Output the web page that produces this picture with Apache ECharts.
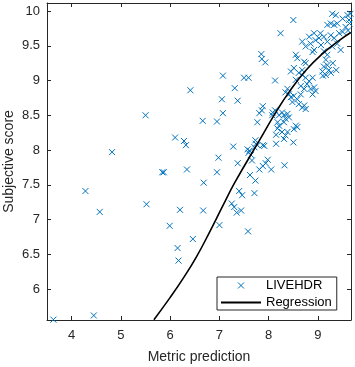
<!DOCTYPE html>
<html><head><meta charset="utf-8">
<script src="https://cdn.jsdelivr.net/npm/echarts@6/dist/echarts.min.js"></script>
<style>html,body{margin:0;padding:0;background:#fff}#c{width:355px;height:367px}</style>
</head><body><div id="c"></div>
<script>
const xTicks = [4, 5, 6, 7, 8, 9];
const yTicks = [6, 6.5, 7, 7.5, 8, 8.5, 9, 9.5, 10];

const scatterX = [
  3.63,4.45,4.28,4.57,4.82,5.50,5.52,5.84,5.87,5.99,6.10,6.15,6.17,6.20,6.28,6.32,6.34,6.41,6.46,6.66,6.67,6.68,6.95,6.95,6.98,7.00,7.05,7.07,7.07,
  7.31,7.37,7.50,7.59,7.28,7.37,7.57,7.61,7.59,7.64,7.66,7.62,7.73,7.40,7.46,7.71,7.25,7.30,7.35,7.44,7.58,
  7.73,7.74,7.71,7.77,7.88,7.91,7.77,7.81,7.86,7.88,7.85,7.86,7.93,7.81,7.88,7.94,7.98,8.05,8.32,
  8.08,8.13,8.07,8.21,8.18,8.21,8.18,8.15,8.15,8.13,8.24,8.50,
  8.55,8.75,8.82,8.89,8.78,8.65,8.72,8.85,8.92,8.95,8.89,9.10,
  8.38,8.34,8.41,8.45,8.51,8.58,8.65,
  8.48,8.61,8.68,8.75,8.72,
  8.27,8.31,8.38,8.41,8.34,8.31,
  8.55,8.58,8.51,
  8.27,8.34,8.31,8.38,8.50,
  9.29,9.36,9.26,9.33,9.19,9.39,9.50,9.60,9.63,9.66,9.56,9.50,9.43,
  9.05,9.12,9.26,9.33,
  8.92,9.02,8.95,8.82,8.85,9.06,9.19,9.29,9.39,9.46,
  8.68,8.75,8.92,8.89,
  9.12,9.19,9.16,9.19,9.12,9.22,9.26,9.09,9.16,
  8.55,8.58,8.72,8.75,8.68,8.51,8.45,8.61,8.68,
  9.37,9.30,9.61,9.64
];
const scatterY = [
  5.56,5.62,7.41,7.11,7.97,8.50,7.22,7.68,7.68,6.91,8.18,6.59,6.41,7.14,8.13,8.07,7.72,8.86,6.72,8.42,7.13,7.53,8.41,7.68,7.89,6.92,8.73,9.07,8.53,
  8.89,8.71,9.04,9.04,8.05,7.81,8.01,7.99,7.96,7.93,7.85,7.64,7.56,7.41,7.35,7.38,7.23,7.18,7.10,7.13,6.83,
  8.14,8.09,8.04,8.07,8.07,8.06,8.40,8.53,8.57,8.63,9.38,9.31,9.26,7.72,7.77,7.81,7.86,7.72,7.78,
  8.54,8.57,8.50,8.50,8.40,8.35,8.31,8.22,8.09,9.00,9.68,9.87,
  9.01,9.04,8.99,9.04,8.95,8.92,8.88,8.88,8.90,8.85,8.80,9.07,
  8.88,8.83,8.80,8.76,8.78,8.73,8.80,
  8.69,8.66,8.61,8.59,8.64,
  8.54,8.50,8.52,8.47,8.45,8.40,
  8.35,8.33,8.30,
  8.26,8.21,8.16,8.26,8.11,
  9.96,9.94,9.82,9.80,9.80,9.82,9.89,9.94,9.87,9.96,9.77,9.70,9.68,
  9.68,9.63,9.65,9.61,
  9.68,9.61,9.58,9.63,9.53,9.51,9.56,9.49,9.53,9.44,
  9.56,9.49,9.44,9.41,
  9.42,9.37,9.30,9.22,9.20,9.15,9.11,9.13,9.08,
  9.37,9.32,9.27,9.25,9.15,9.18,9.13,9.11,9.08,
  9.15,9.25,9.72,9.82
];
const regX = [5.67, 5.99, 6.26, 6.53, 6.80, 7.07, 7.31, 7.82, 8.15, 8.42, 8.76, 9.10, 9.44, 9.665];
const regY = [5.56, 5.87, 6.15, 6.46, 6.82, 7.20, 7.53, 8.15, 8.55, 8.84, 9.15, 9.39, 9.58, 9.69];

const scatterData = scatterX.map((x, i) => [x, scatterY[i]]);
const regData = regX.map((x, i) => [x, regY[i]]);

const AX = '#262626';
const FONT = 'Liberation Sans, Arial, sans-serif';
const xMin = 3.5, xMax = 9.67, yMin = 5.555, yMax = 10.115;
const XMARK = 'path://M0 0L10 10M10 0L0 10';
const XMARK_LEG = 'path://M0 0M14 14M4 4L10 10M10 4L4 10';
const LINE_LEG = 'path://M0 0L40 0L40 2L0 2Z';

const chart = echarts.init(document.getElementById('c'), null, {renderer: 'canvas'});
chart.setOption({
  animation: false,
  backgroundColor: '#fff',
  grid: {left: 47, top: 3, width: 304, height: 317, containLabel: false, outerBoundsMode: 'none'},
  legend: {
    orient: 'vertical', left: 217, top: 277,
    padding: [1, 5, 1, 4], itemWidth: 40, itemHeight: 14, itemGap: 3,
    borderColor: AX, borderWidth: 1, backgroundColor: '#fff',
    textStyle: {fontFamily: FONT, fontSize: 13, color: '#000'},
    data: [
      {name: 'LIVEHDR', icon: XMARK_LEG, itemStyle: {color: 'rgba(0,0,0,0)', borderColor: '#0072BD', borderWidth: 1}},
      {name: 'Regression', icon: LINE_LEG, itemStyle: {color: '#000', borderWidth: 0}}
    ]
  },
  xAxis: [{
    type: 'value', min: xMin, max: xMax, position: 'bottom',
    name: 'Metric prediction', nameLocation: 'middle', nameGap: 30, nameMoveOverlap: false,
    nameTextStyle: {fontFamily: FONT, fontSize: 14, color: AX},
    axisLine: {show: true, onZero: false, lineStyle: {color: AX, width: 1}},
    axisTick: {show: true, inside: true, length: 4, customValues: xTicks, lineStyle: {color: AX}},
    axisLabel: {customValues: xTicks, fontFamily: FONT, fontSize: 13, color: AX, margin: 9},
    splitLine: {show: false}
  }, {
    type: 'value', min: xMin, max: xMax, position: 'top',
    axisLine: {show: true, onZero: false, lineStyle: {color: AX, width: 1}},
    axisTick: {show: true, inside: true, length: 4, customValues: xTicks, lineStyle: {color: AX}},
    axisLabel: {show: false}, splitLine: {show: false}
  }],
  yAxis: [{
    type: 'value', min: yMin, max: yMax, position: 'left',
    name: 'Subjective score', nameLocation: 'middle', nameGap: 31, nameMoveOverlap: false,
    nameTextStyle: {fontFamily: FONT, fontSize: 14, color: AX},
    axisLine: {show: true, onZero: false, lineStyle: {color: AX, width: 1}},
    axisTick: {show: true, inside: true, length: 4, customValues: yTicks, lineStyle: {color: AX}},
    axisLabel: {customValues: yTicks, fontFamily: FONT, fontSize: 13, color: AX, margin: 7},
    splitLine: {show: false}
  }, {
    type: 'value', min: yMin, max: yMax, position: 'right',
    axisLine: {show: true, onZero: false, lineStyle: {color: AX, width: 1}},
    axisTick: {show: true, inside: true, length: 4, customValues: yTicks, lineStyle: {color: AX}},
    axisLabel: {show: false}, splitLine: {show: false}
  }],
  series: [{
    name: 'LIVEHDR', type: 'scatter', data: scatterData,
    symbol: XMARK, symbolSize: 6,
    itemStyle: {color: 'rgba(0,0,0,0)', borderColor: '#0072BD', borderWidth: 1, opacity: 1},
    clip: true, z: 3
  }, {
    name: 'Regression', type: 'line', data: regData, smooth: 0.5,
    symbol: 'none', clip: true,
    lineStyle: {color: '#000', width: 1.6}, itemStyle: {color: '#000'}, z: 4
  }]
});
</script></body></html>
